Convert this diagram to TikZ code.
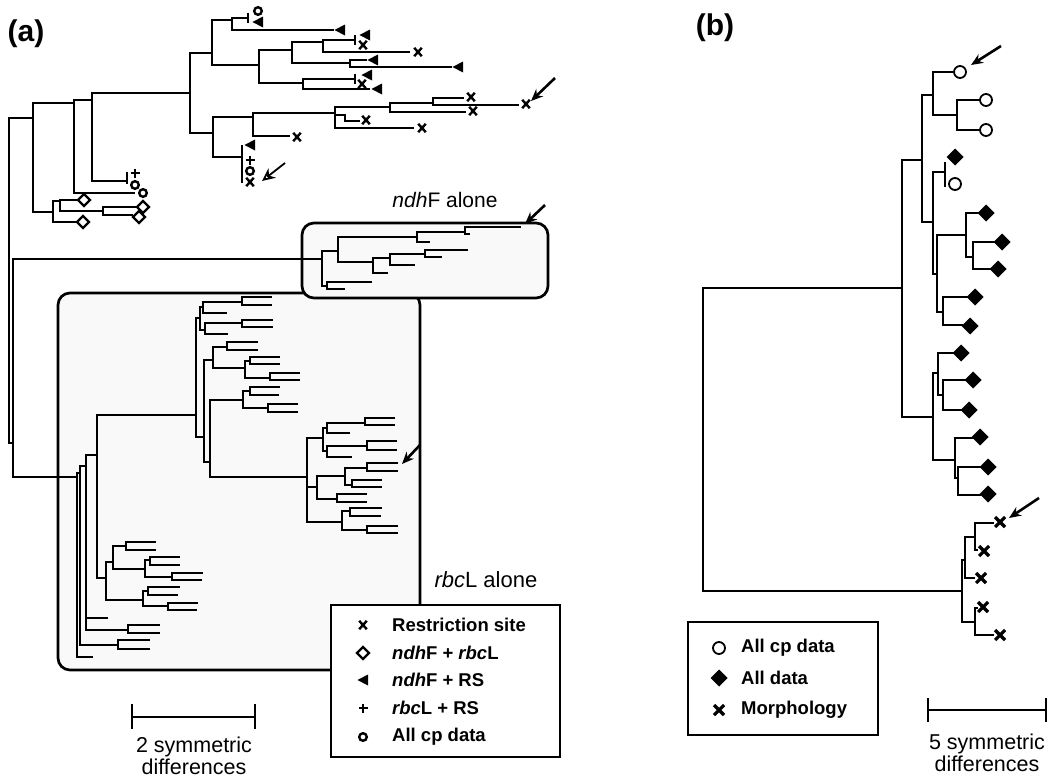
\documentclass[tikz,border=0pt]{standalone}
\RequirePackage{fontspec}
\setmainfont{Liberation Sans}
\RequirePackage{tikz}
\usetikzlibrary{arrows.meta}

\tikzset{
  xsite/.pic={\draw[line width=2.4pt] (-3.8,-4.2) -- (3.8,4.2) (-3.8,4.2) -- (3.8,-4.2);},
  opendia/.pic={\draw[line width=2.2pt,fill=white] (0,-6) -- (6,0) -- (0,6) -- (-6,0) -- cycle;},
  lefttri/.pic={\fill (-5.5,0) -- (5,-5.5) -- (5,5.5) -- cycle;},
  plussign/.pic={\draw[line width=2.4pt] (-4.5,0) -- (4.5,0) (0,-4.5) -- (0,4.5);},
  thickcirc/.pic={\draw[line width=2.4pt,fill=white] (0,0) circle (3.8);},
  bcirc/.pic={\draw[line width=1.8pt,fill=white] (0,0) circle (6);},
  bdia/.pic={\fill (0,-8.5) -- (8.5,0) -- (0,8.5) -- (-8.5,0) -- cycle;},
  bcross/.pic={\draw[line width=3.2pt] (-5,-5) -- (5,5) (-5,5) -- (5,-5);}
}

\begin{document}
\begin{tikzpicture}[x=1pt,y=-1pt,
                tree/.style={line width=1.8pt},
                thintree/.style={line width=1.3pt},
                boxline/.style={line width=2.7pt,rounded corners=12pt,fill=gray!5},
                legbox/.style={line width=2.7pt,fill=white},
                pointer/.style={line width=2.6pt,-{Stealth[length=12pt,width=10pt]}},
                hollow/.style={line width=1.8pt,-{Stealth[open,length=13pt,width=12pt]}},
                legtext/.style={anchor=west,inner sep=0pt,font=\bfseries\fontsize{18.5}{20}\selectfont},
                plaintext/.style={font=\fontsize{21}{23}\selectfont},
                scaletext/.style={align=center,font=\fontsize{21.5}{22}\selectfont}]
                \useasboundingbox (0,0) rectangle (1059,779);

                \node[font=\bfseries\fontsize{30}{32}\selectfont] (labela) at (26,34) {(a)};
                \node[font=\bfseries\fontsize{30}{32}\selectfont] (labelb) at (715,28) {(b)};

                \draw[boxline] (58,293) rectangle (420,670);
                \draw[boxline] (302,223) rectangle (548,298);
                \draw[legbox] (331,605) rectangle (560,757);

                \node[plaintext] (ndhlabel) at (445,200) {\textit{ndh}F alone};
                \node[plaintext,anchor=west,font=\fontsize{22}{24}\selectfont] (rbclabel) at (431,580) {\textit{rbc}L alone};

                \draw[tree] (33,118) -| (9,443) -- (13,443);
                \draw[tree] (322,259) -| (13,477) -- (77,477);
                \draw[tree] (74,103) -| (33,212) -- (53,212);
                \draw[tree] (92,100) -| (74,193) -- (135,193);
                \draw[tree] (190,93) -| (92,181) -- (127,181);
                \draw[tree] (127,172) -- (127,184);
                \draw[tree] (60,201) -| (53,222) -- (78,222);
                \draw[tree] (78,200) -| (60,211) -- (103,211);
                \draw[tree] (137,207) -| (103,215) -- (133,215);

                \draw[tree] (212,53) -| (190,133) -- (213,133);
                \draw[tree] (232,20) -| (212,65) -- (259,65);
                \draw[tree] (248,18) -| (232,30) -- (334,30);
                \draw[tree] (248,13) -- (248,23);
                \draw[tree] (292,50) -| (259,83) -- (303,83);
                \draw[tree] (323,42) -| (292,63) -- (350,63);
                \draw[tree] (355,40) -| (323,52) -- (410,52);
                \draw[tree] (355,35) -- (355,45);
                \draw[tree] (367,60) -| (350,67) -- (452,67);
                \draw[tree] (355,79) -| (303,89) -- (370,89);
                \draw[tree] (355,74) -- (355,84);
                \draw[tree] (253,117) -| (213,157) -- (242,157);
                \draw[tree] (242,145) -- (242,183);
                \draw[tree] (335,113) -| (253,136) -- (290,136);
                \draw[tree] (390,107) -| (335,128) -- (414,128);
                \draw[tree] (335,115) -| (345,121) -- (360,121);
                \draw[tree] (433,103) -| (390,112) -- (466,112);
                \draw[tree] (464,98) -| (433,105) -- (519,105);

                \pic at (135,173) {plussign};
                \pic at (135,185) {thickcirc};
                \pic at (143,193) {thickcirc};
                \pic at (84,200) {opendia};
                \pic at (83,222) {opendia};
                \pic at (143,207) {opendia};
                \pic at (139,217) {opendia};
                \pic at (258,11) {thickcirc};
                \pic at (258,22) {lefttri};
                \pic at (340,30) {lefttri};
                \pic at (365,35) {lefttri};
                \pic at (363,45) {xsite};
                \pic at (418,52) {xsite};
                \pic at (373,60) {lefttri};
                \pic at (458,67) {lefttri};
                \pic at (367,75) {lefttri};
                \pic at (362,84) {xsite};
                \pic at (377,89) {lefttri};
                \pic at (250,145) {lefttri};
                \pic at (250,160) {plussign};
                \pic at (250,171) {thickcirc};
                \pic at (250,182) {xsite};
                \pic at (297,137) {xsite};
                \pic at (422,128) {xsite};
                \pic at (366,120) {xsite};
                \pic at (473,111) {xsite};
                \pic at (471,97) {xsite};
                \pic at (526,104) {xsite};

                \draw[pointer] (555,78) -- (531,101);
                \draw[hollow] (285,163) -- (262,181);

                \draw[tree] (338,251) -| (322,286) -- (327,286);
                \draw[tree] (417,237) -| (338,262) -- (373,262);
                \draw[tree] (465,232) -| (417,242) -- (430,242);
                \draw[tree] (521,227) -| (465,234) -- (470,234);
                \draw[tree] (390,258) -| (373,273) -- (388,273);
                \draw[tree] (425,254) -| (390,265) -- (415,265);
                \draw[tree] (468,250) -| (425,257) -- (442,257);
                \draw[tree] (372,282) -| (327,289) -- (345,289);
                \draw[pointer] (545,205) -- (525,224);

                \draw[tree] (80,473) -| (77,657) -- (93,657);
                \draw[tree] (86,466) -| (80,645) -- (118,645);
                \draw[tree] (150,640) -| (118,649) -- (150,649);
                \draw[tree] (97,455) -| (86,630) -- (128,630);
                \draw[tree] (86,618) -- (108,618);
                \draw[tree] (160,625) -| (128,633) -- (160,633);
                \draw[tree] (195,415) -| (97,578) -- (106,578);
                \draw[tree] (113,562) -| (106,600) -- (143,600);
                \draw[tree] (126,546) -| (113,569) -- (145,569);
                \draw[tree] (156,542) -| (126,550) -- (156,550);
                \draw[tree] (150,560) -| (145,577) -- (172,577);
                \draw[tree] (180,557) -| (150,565) -- (180,565);
                \draw[tree] (203,573) -| (172,580) -- (202,580);
                \draw[tree] (148,591) -| (143,606) -- (168,606);
                \draw[tree] (180,587) -| (148,595) -- (178,595);
                \draw[tree] (198,603) -| (168,610) -- (197,610);

                \draw[tree] (200,318) -| (196,437) -- (204,437);
                \draw[tree] (203,307) -| (200,330) -- (205,330);
                \draw[tree] (242,302) -| (203,313) -- (227,313);
                \draw[tree] (272,297) -| (242,305) -- (272,305);
                \draw[tree] (242,323) -| (205,334) -- (228,334);
                \draw[tree] (273,320) -| (242,327) -- (273,327);
                \draw[tree] (213,360) -| (204,462) -- (210,462);
                \draw[tree] (227,347) -| (213,368) -- (245,368);
                \draw[tree] (258,342) -| (227,350) -- (258,350);
                \draw[tree] (250,361) -| (245,378) -- (270,378);
                \draw[tree] (280,357) -| (250,364) -- (280,364);
                \draw[tree] (300,373) -| (270,380) -- (300,380);
                \draw[tree] (243,400) -| (210,477) -- (307,477);
                \draw[tree] (250,391) -| (243,408) -- (268,408);
                \draw[tree] (280,387) -| (250,395) -- (279,395);
                \draw[tree] (298,404) -| (268,412) -- (298,412);

                \draw[tree] (323,438) -| (307,522) -- (342,522);
                \draw[tree] (307,487) -- (317,487);
                \draw[tree] (327,428) -| (323,451) -- (327,451);
                \draw[tree] (365,423) -| (327,433) -- (350,433);
                \draw[tree] (395,418) -| (365,425) -- (395,425);
                \draw[tree] (367,446) -| (327,457) -- (352,457);
                \draw[tree] (397,441) -| (367,450) -- (397,450);
                \draw[tree] (345,476) -| (317,499) -- (337,499);
                \draw[tree] (367,468) -| (345,485) -- (352,485);
                \draw[tree] (398,463) -| (367,471) -- (398,471);
                \draw[tree] (382,480) -| (352,487) -- (382,487);
                \draw[tree] (367,494) -| (337,502) -- (367,502);
                \draw[tree] (350,511) -| (342,530) -- (367,530);
                \draw[tree] (382,508) -| (350,516) -- (381,516);
                \draw[tree] (398,526) -| (367,533) -- (398,533);
                \draw[pointer] (420,445) -- (402,464);

                \pic at (363,625) {xsite};
                \node[legtext] (lega1) at (392,625) {Restriction site};
                \pic at (363,653) {opendia};
                \node[legtext] (lega2) at (392,653) {\textit{ndh}F + \textit{rbc}L};
                \pic at (363,680) {lefttri};
                \node[legtext] (lega3) at (392,680) {\textit{ndh}F + RS};
                \pic at (363,708) {plussign};
                \node[legtext] (lega4) at (392,708) {\textit{rbc}L + RS};
                \pic at (363,737) {thickcirc};
                \node[legtext] (lega5) at (392,737) {All cp data};

                \draw[line width=2.4pt] (132,717) -- (255,717);
                \draw[line width=2.4pt] (132,704) -- (132,729);
                \draw[line width=2.4pt] (255,704) -- (255,729);
                \node[scaletext] (scalea) at (194,756) {2 symmetric\\differences};

                \draw[thintree] (902,288) -| (703,591) -- (962,591);
                \draw[thintree] (922,160) -| (902,417) -- (933,417);
                \draw[thintree] (933,95) -| (922,222) -- (933,222);
                \draw[thintree] (954,72) -| (933,115) -- (957,115);
                \draw[thintree] (980,100) -| (957,130) -- (980,130);
                \draw[thintree] (945,172) -| (933,274) -- (937,274);
                \draw[thintree] (945,162) -- (945,187);
                \draw[thintree] (966,235) -| (937,312) -- (943,312);
                \draw[thintree] (982,213) -| (966,257) -- (973,257);
                \draw[thintree] (996,242) -| (973,269) -- (992,269);
                \draw[thintree] (968,297) -| (943,325) -- (963,325);
                \draw[thintree] (938,373) -| (933,460) -- (955,460);
                \draw[thintree] (955,353) -| (938,395) -- (943,395);
                \draw[thintree] (966,380) -| (943,410) -- (962,410);
                \draw[thintree] (974,438) -| (955,478) -- (958,478);
                \draw[thintree] (981,467) -| (958,495) -- (981,495);
                \draw[thintree] (965,560) -| (962,622) -- (975,622);
                \draw[thintree] (975,537) -| (965,578) -- (975,578);
                \draw[thintree] (994,523) -| (975,550) -- (978,550);
                \draw[thintree] (978,608) -| (975,635) -- (994,635);

                \pic at (960,72) {bcirc};
                \pic at (986,100) {bcirc};
                \pic at (986,130) {bcirc};
                \pic at (955,157) {bdia};
                \pic at (955,184) {bcirc};
                \pic at (986,213) {bdia};
                \pic at (1002,242) {bdia};
                \pic at (998,269) {bdia};
                \pic at (975,297) {bdia};
                \pic at (970,326) {bdia};
                \pic at (961,353) {bdia};
                \pic at (973,380) {bdia};
                \pic at (969,410) {bdia};
                \pic at (980,437) {bdia};
                \pic at (988,467) {bdia};
                \pic at (988,494) {bdia};
                \pic at (1000,522) {bcross};
                \pic at (984,551) {bcross};
                \pic at (981,578) {bcross};
                \pic at (983,607) {bcross};
                \pic at (1000,635) {bcross};
                \draw[pointer] (1001,46) -- (971,65);
                \draw[pointer] (1039,498) -- (1009,518);

                \draw[line width=2.4pt] (688,622) rectangle (878,735);
                \pic at (719,648) {bcirc};
                \node[legtext] (legb1) at (741,648) {All cp data};
                \pic at (719,678) {bdia};
                \node[legtext] (legb2) at (741,678) {All data};
                \pic at (719,710) {bcross};
                \node[legtext] (legb3) at (741,710) {Morphology};

                \draw[line width=2.4pt] (928,710) -- (1046,710);
                \draw[line width=2.4pt] (928,698) -- (928,722);
                \draw[line width=2.4pt] (1046,698) -- (1046,722);
                \node[scaletext] (scaleb) at (987,753) {5 symmetric\\differences};
\end{tikzpicture}
\end{document}
